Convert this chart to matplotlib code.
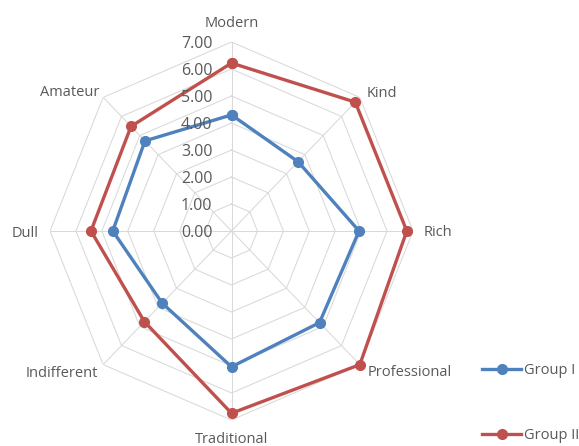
import numpy as np
import matplotlib
matplotlib.use("Agg")
import matplotlib.pyplot as plt

# ---- data ----
categories = ["Modern", "Kind", "Rich", "Professional", "Traditional",
              "Indifferent", "Dull", "Amateur"]
group1 = [4.30, 3.63, 4.92, 4.80, 5.03, 3.78, 4.58, 4.72]
group2 = [6.22, 6.75, 6.76, 7.00, 6.75, 4.75, 5.42, 5.48]
series_names = ["Group I", "Group II"]
tick_values = [0, 1, 2, 3, 4, 5, 6, 7]
tick_labels = ["0.00", "1.00", "2.00", "3.00", "4.00", "5.00", "6.00", "7.00"]

BLUE = "#4F81BD"
RED = "#C0504D"
GRID = "#D9D9D9"
TXT = "#595959"
FONT = "Open Sans"
FS = 10.5
FS_TICK = 11.5

plt.rcParams["font.family"] = [FONT, "DejaVu Sans"]

DPI = 100
fig = plt.figure(figsize=(5.79, 4.46), dpi=DPI)
ax = fig.add_axes([0.08636, 0.05830, 0.62694, 0.84753], projection="polar")
ax.set_aspect("auto")
ax.set_theta_zero_location("N")
ax.set_theta_direction(-1)
rmax = tick_values[-1]
ax.set_ylim(0, rmax)
ax.grid(False)
ax.spines["polar"].set_visible(False)
ax.set_xticks([])
ax.set_yticks([])
ax.patch.set_alpha(0)

n = len(categories)
theta = np.linspace(0, 2 * np.pi, n, endpoint=False)
theta_c = np.concatenate([theta, theta[:1]])

# octagonal grid
for v in tick_values[1:]:
    ax.plot(theta_c, [v] * (n + 1), color=GRID, lw=0.75, zorder=1)
for t in theta:
    ax.plot([t, t], [0, rmax], color=GRID, lw=0.75, zorder=1)

# series
for vals, col, name in [(group1, BLUE, series_names[0]), (group2, RED, series_names[1])]:
    v = list(vals) + [vals[0]]
    ax.plot(theta_c, v, color=col, lw=2.4, marker="o", markersize=7,
            label=name, zorder=3, clip_on=False)

px = 72.0 / DPI  # pixel -> points

# radial tick labels
for v, lab in zip(tick_values, tick_labels):
    ax.annotate(lab, xy=(0, v), xytext=(-19 * px, -6 * px), textcoords="offset points",
                ha="right", va="baseline", color=TXT, fontsize=FS_TICK, annotation_clip=False)

# category labels: (dx, dy) pixel offsets of baseline anchor, alignment
label_style = [
    (0, 15, "center"),     # Modern
    (7, 0, "left"),        # Kind
    (11, -5.5, "left"),    # Rich
    (8, -11.5, "left"),    # Professional
    (0, -23, "center"),    # Traditional
    (-5, -12, "right"),    # Indifferent
    (-11, -5.7, "right"),  # Dull
    (-4, 1, "right"),      # Amateur
]
for t, lab, (dx, dy, ha) in zip(theta, categories, label_style):
    ax.annotate(lab, xy=(t, rmax), xytext=(dx * px, dy * px), textcoords="offset points",
                ha=ha, va="baseline", color=TXT, fontsize=FS, annotation_clip=False)

leg = fig.legend(loc="upper left", bbox_to_anchor=(482 / 579, 1 - 363 / 446),
                 frameon=False, fontsize=FS, labelcolor=TXT, handlelength=2.7,
                 handletextpad=0.2, labelspacing=3.45, borderpad=0, borderaxespad=0)

fig.savefig("out.png", dpi=DPI, facecolor="white")
